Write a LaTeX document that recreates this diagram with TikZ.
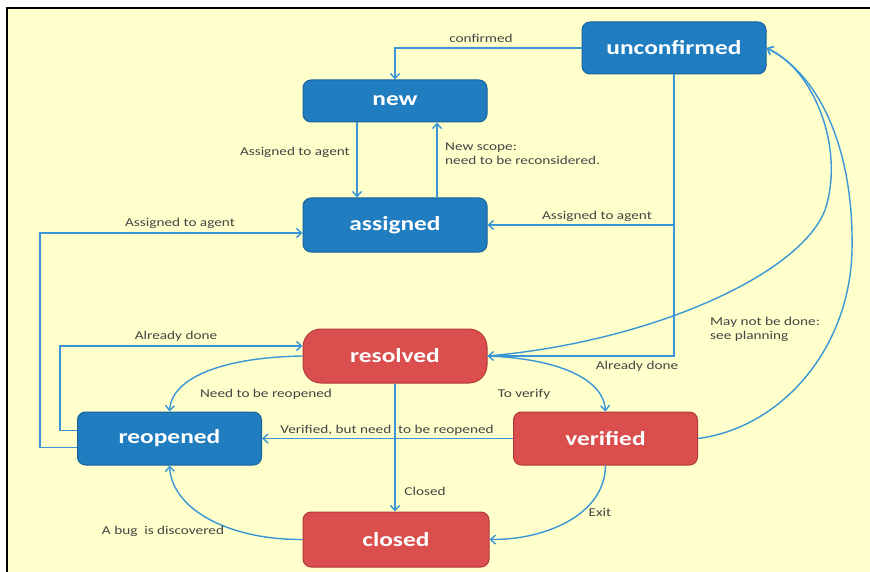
\documentclass[tikz,border=0pt]{standalone}
\usepackage{fontspec}
\setmainfont{Carlito}
\usetikzlibrary{arrows.meta,calc}
\definecolor{bg}{RGB}{255,255,204}
\definecolor{nblue}{RGB}{31,125,192}
\definecolor{nbluedk}{RGB}{24,98,158}
\definecolor{nred}{RGB}{218,78,78}
\definecolor{nreddk}{RGB}{178,58,58}
\definecolor{lnblue}{RGB}{58,150,214}
\definecolor{lbl}{RGB}{68,68,68}
\newcommand\hs[1]{\scalebox{1.27}[1]{#1}}
\tikzset{
  state/.style={rounded corners=8pt, minimum width=184pt, text=white,
    font=\fontsize{20}{24}\selectfont\bfseries, line width=1pt, inner sep=0pt},
  bstate/.style={state, fill=nblue, draw=nbluedk},
  rstate/.style={state, fill=nred, draw=nreddk},
  conn/.style={draw=lnblue, line width=1.4pt, -{Straight Barb[length=5pt,width=9pt]}},
  plain/.style={draw=lnblue, line width=1.4pt},
  lab/.style={font=\fontsize{12}{14}\selectfont, text=lbl, inner sep=0pt},
}
\begin{document}
\begin{tikzpicture}[x=1pt,y=-1pt]
\useasboundingbox (0,0) rectangle (870,572);
\clip (0,0) rectangle (870,572);
\fill[white] (0,0) rectangle (870,572);
\fill[bg] (7,8) rectangle (875,578);
\draw[black, line width=1.6pt] (7,578) -- (7,8) -- (875,8);

% states
\node[bstate, minimum height=52pt] (unc) at (674,48) {\hs{unconfirmed}};
\node[bstate, minimum height=42pt] (new) at (395,101) {\hs{new}};
\node[bstate, minimum height=54pt] (asg) at (395,225) {\hs{assigned}};
\node[rstate, minimum height=54pt, rounded corners=18pt] (res) at (395,356) {\hs{resolved}};
\node[bstate, minimum height=53pt] (reo) at (169.5,438.5) {\hs{reopened}};
\node[rstate, minimum height=53pt] (ver) at (605.5,438.5) {\hs{verified}};
\node[rstate, minimum height=55pt, minimum width=186pt] (clo) at (396,539.5) {\hs{closed}};

% connectors
\draw[conn] (unc.west) -| (new.north);
\draw[conn] ($(new.south)+(-38,0)$) -- ($(asg.north)+(-38,0)$);
\draw[conn] ($(asg.north)+(42,0)$) -- ($(new.south)+(42,0)$);
\draw[conn] (unc.south) |- (asg.east);
\draw[conn] (unc.south) |- (res.east);
\draw[conn] ($(reo.west)+(0,9)$) -- ++(-37,0) |- ($(asg.west)+(0,8)$);
\draw[conn] ($(reo.west)+(0,-8)$) -- ++(-17,0) |- ($(res.west)+(0,-10)$);
\draw[conn] (res.west) .. controls (230,357) and (172,375) .. (reo.north);
\draw[conn] (res.east) .. controls (548,358) and (603,375) .. (ver.north);
\draw[conn] (ver.west) -- (reo.east);
\draw[conn] (res.south) -- (clo.north -| res.south);
\draw[conn] (ver.south) .. controls (605,515) and (545,540) .. (clo.east);
\draw[conn] (clo.west) .. controls (230,540) and (172,510) .. (reo.south);
\draw[conn] (res.east) .. controls (650,342) and (800,275) .. (825,210)
  .. controls (845,150) and (815,70) .. (unc.east);
\draw[conn] (ver.east) .. controls (780,428) and (850,350) .. (852,250)
  .. controls (854,150) and (820,75) .. (unc.east);

% labels
\node[lab] (l1) at (481,38) {\hs{confirmed}};
\node[lab, anchor=east] (l2) at (350,152) {\hs{Assigned to agent}};
\node[lab, anchor=west, align=left] (l3) at (445,154) {\hs{New scope:}\\\hs{need to be reconsidered.}};
\node[lab] (l4) at (597,216) {\hs{Assigned to agent}};
\node[lab] (l5) at (637,366) {\hs{Already done}};
\node[lab] (l6) at (180,223) {\hs{Assigned to agent}};
\node[lab] (l7) at (176,336) {\hs{Already done}};
\node[lab] (l8) at (266,394) {\hs{Need to be reopened}};
\node[lab] (l9) at (524,394) {\hs{To verify}};
\node[lab] (l10) at (387,430) {\hs{Verified, but need\ \ to be reopened}};
\node[lab] (l11) at (425,491) {\hs{Closed}};
\node[lab] (l12) at (600,512) {\hs{Exit}};
\node[lab] (l13) at (163,531) {\hs{A bug\ \ is discovered}};
\node[lab, anchor=west, align=left] (l14) at (710,329) {\hs{May not be done:}\\\hs{see planning}};
\end{tikzpicture}
\end{document}
